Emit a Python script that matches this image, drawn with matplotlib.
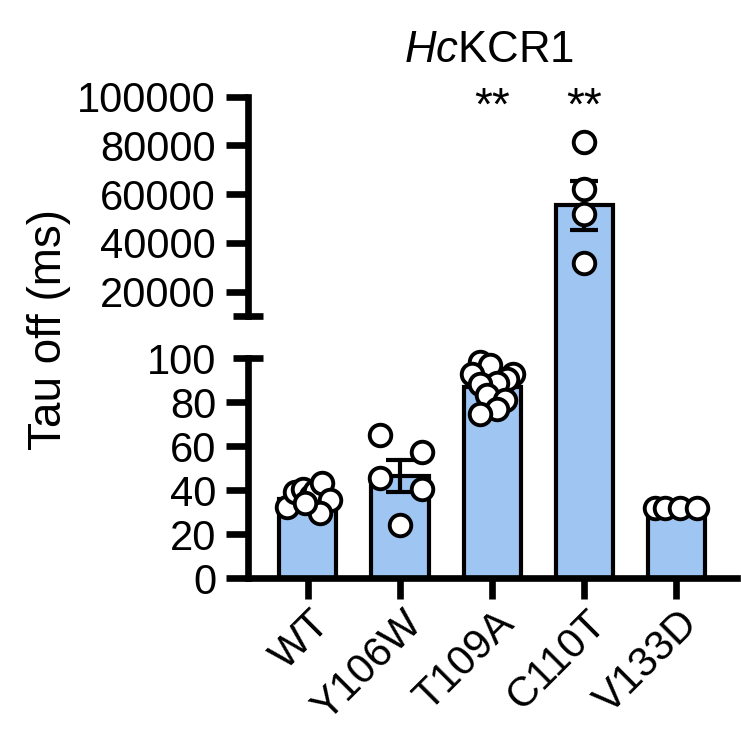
import matplotlib.pyplot as plt
from matplotlib.ticker import FormatStrFormatter
from matplotlib.transforms import ScaledTranslation

plt.rcParams['font.family'] = ['Liberation Sans', 'DejaVu Sans']
plt.rcParams['mathtext.fontset'] = 'custom'
plt.rcParams['mathtext.it'] = 'Liberation Sans:italic'
plt.rcParams['mathtext.rm'] = 'Liberation Sans'

groups = ['WT', 'Y106W', 'T109A', 'C110T', 'V133D']
means = [36, 46.6, 87, 55400, 31]
sems = [1.5, 7.2, 2.2, 10000, 0.4]
stars = ['', '', '**', '**', '']

# individual cells (C110T lives on the upper axis)
wt = [32.4, 39.2, 40.8, 37.5, 39.5, 43.5, 35.5, 29.5, 34.0]
y106w = [65.3, 57.4, 45.6, 40.8, 24.1]
t109a = [98.3, 96.8, 93.0, 93.0, 90.8, 88.8, 88.5, 83.2, 80.9, 77.1, 74.5]
c110t = [81300, 61950, 51700, 31950]
v133d = [32, 32, 32, 32]

# horizontal scatter of the dots within each bar
wt_dx = [-0.23, -0.14, -0.05, 0.03, 0.08, 0.15, 0.24, 0.13, -0.03]
y106w_dx = [-0.22, 0.24, -0.22, 0.24, 0.0]
t109a_dx = [-0.13, -0.02, -0.22, 0.23, 0.16, 0.05, -0.13, -0.06, 0.14, 0.05, -0.13]
c110t_dx = [0.0, 0.0, 0.0, 0.0]
v133d_dx = [-0.23, -0.12, 0.04, 0.23]

low_ticks = [0, 20, 40, 60, 80, 100]
high_ticks = [20000, 40000, 60000, 80000, 100000]

bar_color = '#9fc5f3'
lw = 4.8
fs = 30
xlim = (-0.65, 4.66)

fig = plt.figure(figsize=(7.41, 7.41), dpi=100)
ax_bot = fig.add_axes([0.3347, 0.2196, 0.66, 0.2969])
ax_top = fig.add_axes([0.3347, 0.5735, 0.66, 0.296])

for ax in (ax_bot, ax_top):
    ax.patch.set_visible(False)
    ax.set_xlim(*xlim)
    for s in ('top', 'right'):
        ax.spines[s].set_visible(False)
    ax.spines['left'].set_linewidth(lw)
    ax.tick_params(axis='both', width=lw, length=16, pad=7, labelsize=fs)
    ax.yaxis.set_major_formatter(FormatStrFormatter('%d'))

ax_bot.set_ylim(0, 100)
ax_bot.set_yticks(low_ticks)
ax_bot.spines['bottom'].set_linewidth(lw)
ax_top.set_ylim(10000, 100000)
ax_top.set_yticks(high_ticks)
ax_top.spines['bottom'].set_visible(False)
ax_top.tick_params(axis='x', bottom=False, labelbottom=False)

x = list(range(len(groups)))
low = [i for i in x if i != 3]

# bars: the tall one is drawn in the lower axis right up to its mean on the upper axis
heights = []
for i in x:
    if i == 3:
        disp = ax_top.transData.transform((i, means[i]))
        heights.append(ax_bot.transData.inverted().transform(disp)[1])
    else:
        heights.append(means[i])
ax_bot.bar(x, heights, width=0.62, color=bar_color, edgecolor='k',
           linewidth=3, zorder=2, clip_on=False)

ax_bot.errorbar(low, [means[i] for i in low], yerr=[sems[i] for i in low],
                fmt='none', ecolor='k', elinewidth=3, capsize=10,
                capthick=3, zorder=3)
ax_top.errorbar([3], [means[3]], yerr=[sems[3]], fmt='none', ecolor='k',
                elinewidth=3, capsize=10, capthick=3, zorder=3)

dot = dict(marker='o', ms=15.5, mfc='white', mec='k', mew=2.8,
           linestyle='none', zorder=4, clip_on=False)
for i, vals, dx in [(0, wt, wt_dx), (1, y106w, y106w_dx),
                    (2, t109a, t109a_dx), (4, v133d, v133d_dx)]:
    ax_bot.plot([i + d for d in dx], vals, **dot)
ax_top.plot([3 + d for d in c110t_dx], c110t, **dot)

for i, s in enumerate(stars):
    if s:
        ax_top.text(i, 90500, s, ha='center', va='baseline', fontsize=33)

ax_bot.set_xticks(x)
ax_bot.set_xticklabels(groups, rotation=45, ha='right', va='top',
                       rotation_mode='anchor', fontsize=fs)
ax_bot.tick_params(axis='x', length=15, pad=0)
shift = ScaledTranslation(1 / 72, -3 / 72, fig.dpi_scale_trans)
for lab in ax_bot.get_xticklabels():
    lab.set_transform(lab.get_transform() + shift)

# axis break caps
ax_bot.yaxis.get_major_ticks()[-1].tick1line.set_visible(False)
ax_bot.plot([xlim[0]], [100], marker='_', ms=22, mew=lw, color='k',
            clip_on=False, zorder=5)
ax_top.plot([xlim[0]], [10000], marker='_', ms=22, mew=lw, color='k',
            clip_on=False, zorder=5)

fig.text(0.066, 0.556, 'Tau off (ms)', rotation=90, ha='center',
         va='center', fontsize=33)
fig.text(0.66, 0.916, r'$\mathit{Hc}$KCR1', ha='center', va='baseline',
         fontsize=31.5)

fig.savefig('out.png', dpi=100)
